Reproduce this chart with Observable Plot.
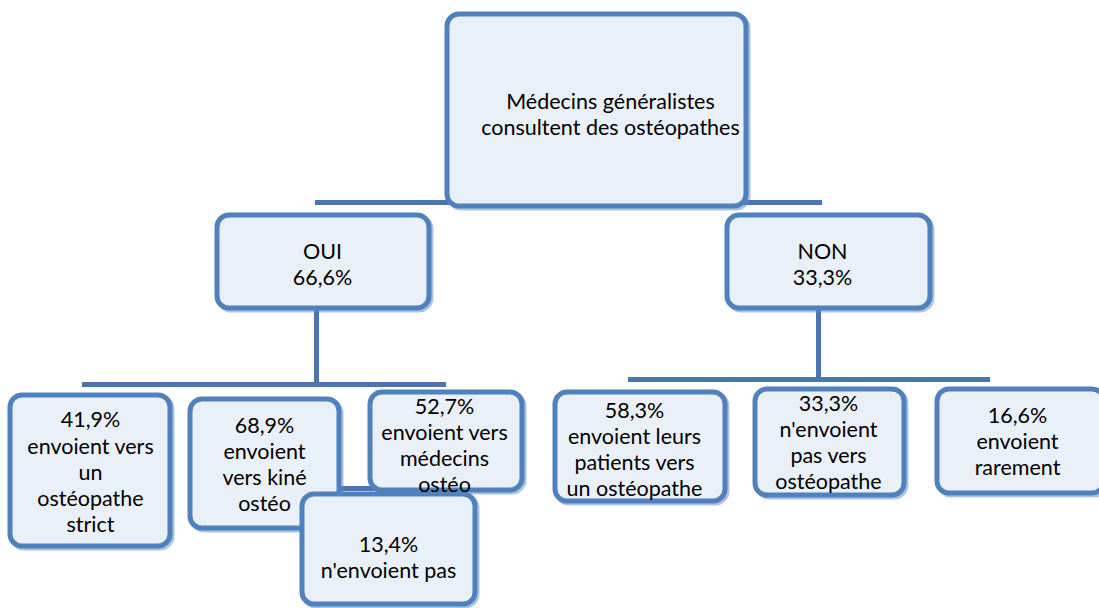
<!DOCTYPE html>
<html><head><meta charset="utf-8">
<script src="https://cdn.jsdelivr.net/npm/d3@7"></script>
<script src="https://cdn.jsdelivr.net/npm/@observablehq/plot@0.6"></script>
<style>body{margin:0;background:#fff}</style>
</head><body><div id="chart"></div>
<script>
// Node labels (content)
const nodeIds = ["root","oui","non","b1","b2","b3","b4","b5","b6","b7"];
const nodeLabels = [
  "Médecins généralistes\nconsultent des ostéopathes",
  "OUI\n66,6%",
  "NON\n33,3%",
  "41,9%\nenvoient vers\nun\nostéopathe\nstrict",
  "68,9%\nenvoient\nvers kiné\nostéo",
  "52,7%\nenvoient vers\nmédecins\nostéo",
  "13,4%\nn'envoient pas",
  "58,3%\nenvoient leurs\npatients vers\nun ostéopathe",
  "33,3%\nn'envoient\npas vers\nostéopathe",
  "16,6%\nenvoient\nrarement"
];
// Layout (box extents and text centres), kept separate from content
const boxX1 = [447, 217, 727, 10, 190, 370, 302, 555, 755, 937];
const boxX2 = [746, 429, 930, 170, 339, 522, 475, 725, 904, 1104];
const boxY1 = [14, 215, 215, 395, 399, 392, 494, 392, 389, 389];
const boxY2 = [206, 308, 308, 546, 528, 490, 604, 501, 495, 493];
const textX = [610, 322, 822, 90, 264, 444, 388, 634, 828, 1017];
const textY = [113, 263, 263, 471, 463, 444, 556, 448, 441, 440];

// Connectors
const hLineY = [202, 384, 379, 488];
const hLineX1 = [315, 82, 628, 338];
const hLineX2 = [822, 446, 990, 382];
const vLineX = [316, 818];
const vLineY1 = [308, 308];
const vLineY2 = [384, 379];

const nodes = nodeIds.map((id, i) => ({id, label: nodeLabels[i], x1: boxX1[i], x2: boxX2[i], y1: boxY1[i], y2: boxY2[i], tx: textX[i], ty: textY[i]}));
const hLines = hLineY.map((y, i) => ({y, x1: hLineX1[i], x2: hLineX2[i]}));
const vLines = vLineX.map((x, i) => ({x, y1: vLineY1[i], y2: vLineY2[i]}));

const W = 1099, H = 608;
const chart = Plot.plot({
  width: W, height: H,
  margin: 0,
  x: {domain: [0, W], range: [0, W], axis: null},
  y: {domain: [0, H], range: [0, H], axis: null},
  style: {background: "#fff"},
  marks: [
    Plot.ruleY(hLines, {y: "y", x1: "x1", x2: "x2", stroke: "#4A75AD", strokeWidth: 5}),
    Plot.ruleX(vLines, {x: "x", y1: "y1", y2: "y2", stroke: "#4A75AD", strokeWidth: 5}),
    Plot.rect(nodes, {x1: d => d.x1 + 2, x2: d => d.x2 + 2, y1: d => d.y1 + 2, y2: d => d.y2 + 2, fill: "none", stroke: "#5B8AC4", strokeWidth: 5, rx: 12, strokeOpacity: 0.5}),
    Plot.rect(nodes, {x1: "x1", x2: "x2", y1: "y1", y2: "y2", fill: "#EAF0F8", stroke: "#4F81BD", strokeWidth: 5, rx: 12}),
    Plot.text(nodes, {x: "tx", y: "ty", text: "label", fontSize: 21.5, lineHeight: 1.22, fill: "#000", fontFamily: "Lato, 'Open Sans', sans-serif"})
  ]
});
document.getElementById("chart").append(chart);
</script>
</body></html>
